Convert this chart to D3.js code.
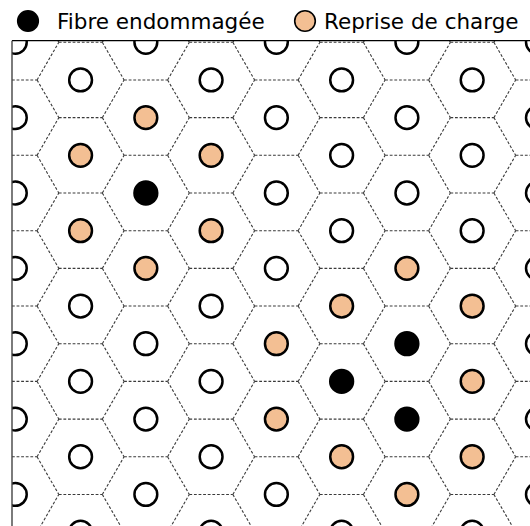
<!DOCTYPE html>
<html>
<head>
<meta charset="utf-8">
<script src="https://cdn.jsdelivr.net/npm/d3@7"></script>
<style>
  html, body { margin: 0; padding: 0; background: #fff; }
  svg { display: block; }
</style>
</head>
<body>
<svg id="chart" width="530" height="526"></svg>
<script>
// ---- data (lattice units: fibre spacing = 1) ----
const columns = [0, 1, 2, 3, 4, 5, 6, 7, 8];          // hexagonal lattice columns
const evenRows = [-1, 0, 1, 2, 3, 4, 5, 6, 7];          // row positions in even columns
const oddRows = [-0.5, 0.5, 1.5, 2.5, 3.5, 4.5, 5.5, 6.5, 7.5]; // row positions in odd columns
// damaged fibres: [column, row]
const damagedFibres = [[2, 2], [5, 4.5], [6, 4], [6, 5]];
// load-sharing fibres: [column, row]
const overloadedFibres = [
  [1, 1.5], [1, 2.5], [2, 1], [2, 3], [3, 1.5], [3, 2.5],
  [4, 4], [4, 5], [5, 3.5], [5, 5.5], [6, 3], [6, 6],
  [7, 3.5], [7, 4.5], [7, 5.5]
];
const legendLabels = ["Fibre endommagée", "Reprise de charge"];
const stateColors = { normal: "#ffffff", damaged: "#000000", overloaded: "#f3bf93" };

// ---- layout ----
const unit = 75.36;                 // px per lattice unit
const plotLeft = 12, plotTop = 40.7;
const xDomain = [-0.044, 7.0];
const yDomain = [-0.021, 6.95];
const x = d3.scaleLinear().domain(xDomain).range([plotLeft, plotLeft + (xDomain[1] - xDomain[0]) * unit]);
const y = d3.scaleLinear().domain(yDomain).range([plotTop, plotTop + (yDomain[1] - yDomain[0]) * unit]);

const colX = c => c * Math.sqrt(3) / 2;
const key = (c, r) => c + "_" + r;
const damagedSet = new Set(damagedFibres.map(d => key(d[0], d[1])));
const overSet = new Set(overloadedFibres.map(d => key(d[0], d[1])));

const fibres = [];
columns.forEach(c => {
  const rows = c % 2 === 0 ? evenRows : oddRows;
  rows.forEach(r => {
    const k = key(c, r);
    fibres.push({ c, r, state: damagedSet.has(k) ? "damaged" : overSet.has(k) ? "overloaded" : "normal" });
  });
});

const svg = d3.select("#chart");
const plotW = 530 - plotLeft + 20, plotH = 526 - plotTop + 20;
svg.append("defs").append("clipPath").attr("id", "plotClip")
  .append("rect").attr("x", plotLeft).attr("y", plotTop).attr("width", plotW).attr("height", plotH);

const plot = svg.append("g").attr("clip-path", "url(#plotClip)");

// Voronoi (hexagon) edges, unique
const R = 1 / Math.sqrt(3);
const edges = new Map();
fibres.forEach(f => {
  const cx = colX(f.c), cy = f.r;
  const verts = d3.range(6).map(i => {
    const a = i * Math.PI / 3;
    return [cx + R * Math.cos(a), cy + R * Math.sin(a)];
  });
  for (let i = 0; i < 6; i++) {
    const p = verts[i], q = verts[(i + 1) % 6];
    const kp = p.map(v => v.toFixed(3)).join(","), kq = q.map(v => v.toFixed(3)).join(",");
    const k = kp < kq ? kp + "|" + kq : kq + "|" + kp;
    if (!edges.has(k)) edges.set(k, kp < kq ? [p, q] : [q, p]);
  }
});
plot.append("g").selectAll("line").data([...edges.values()]).join("line")
  .attr("x1", d => x(d[0][0])).attr("y1", d => y(d[0][1]))
  .attr("x2", d => x(d[1][0])).attr("y2", d => y(d[1][1]))
  .attr("stroke", "#3a3a3a")
  .attr("stroke-width", 1.1)
  .attr("stroke-dasharray", "2.8,1.8");

// fibres
plot.append("g").selectAll("circle").data(fibres).join("circle")
  .attr("cx", d => x(colX(d.c))).attr("cy", d => y(d.r))
  .attr("r", 11.4)
  .attr("fill", d => stateColors[d.state])
  .attr("stroke", "#000")
  .attr("stroke-width", 2.5);

// frame
svg.append("line").attr("x1", plotLeft).attr("y1", plotTop).attr("x2", 540).attr("y2", plotTop)
  .attr("stroke", "#000").attr("stroke-width", 1.2);
svg.append("line").attr("x1", plotLeft).attr("y1", plotTop).attr("x2", plotLeft).attr("y2", 540)
  .attr("stroke", "#444").attr("stroke-width", 1.4);

// legend
const legendItems = [
  { label: legendLabels[0], state: "damaged", mx: 28, tx: 57 },
  { label: legendLabels[1], state: "overloaded", mx: 305, tx: 324 }
];
const lg = svg.append("g");
legendItems.forEach(it => {
  lg.append("circle").attr("cx", it.mx).attr("cy", 21).attr("r", 10.3)
    .attr("fill", stateColors[it.state]).attr("stroke", "#000").attr("stroke-width", 1.6);
  lg.append("text").attr("x", it.tx).attr("y", 28.5)
    .attr("font-family", "DejaVu Sans, sans-serif").attr("font-size", 21.5)
    .attr("fill", "#000").text(it.label);
});
</script>
</body>
</html>
